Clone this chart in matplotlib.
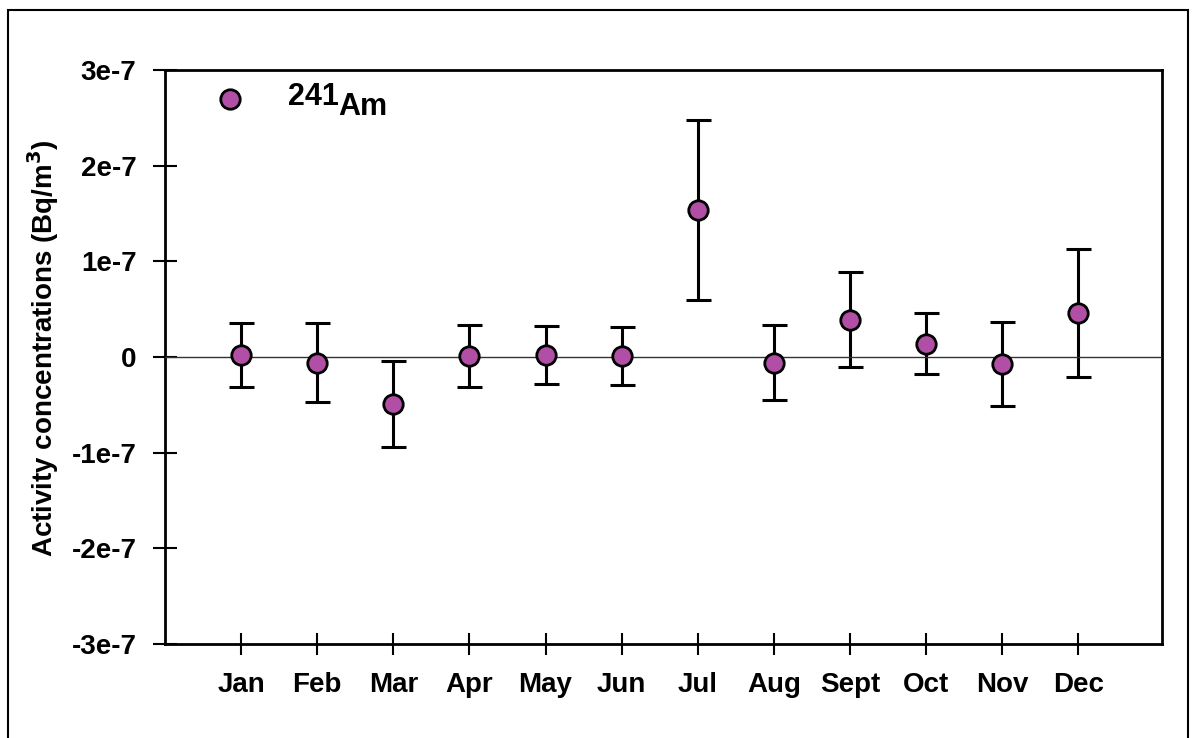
#!/usr/bin/env python3
# -*- coding: utf-8 -*-
"""Monthly 241Am activity concentrations with error bars."""

import numpy as np
import matplotlib
matplotlib.use("Agg")
import matplotlib.pyplot as plt
from matplotlib.patches import Rectangle

MESES = ["Jan", "Feb", "Mar", "Apr", "May", "Jun",
         "Jul", "Aug", "Sept", "Oct", "Nov", "Dec"]

# activity concentrations (Bq/m3) and their uncertainties
actividad = [0.2e-8, -0.6e-8, -4.9e-8, 0.1e-8, 0.2e-8, 0.1e-8,
             15.4e-8, -0.6e-8, 3.9e-8, 1.4e-8, -0.7e-8, 4.6e-8]
error = [3.3e-8, 4.1e-8, 4.5e-8, 3.2e-8, 3.0e-8, 3.0e-8,
         9.4e-8, 3.9e-8, 5.0e-8, 3.2e-8, 4.4e-8, 6.7e-8]

Y_TICKS = [-3e-7, -2e-7, -1e-7, 0, 1e-7, 2e-7, 3e-7]
Y_LABELS = ["-3e-7", "-2e-7", "-1e-7", "0", "1e-7", "2e-7", "3e-7"]

plt.rcParams["font.family"] = ["Liberation Sans", "DejaVu Sans"]
plt.rcParams["font.weight"] = "bold"
plt.rcParams["mathtext.default"] = "bf"

fig = plt.figure(figsize=(11.94, 7.38), dpi=100)
ax = fig.add_axes([0.1382, 0.1274, 0.835, 0.7778])

# outer frame of the figure
fig.patches.append(Rectangle((0.007, -0.05), 0.988, 1.036, transform=fig.transFigure,
                             fill=False, edgecolor="black", linewidth=1.5))

x = np.arange(1, len(MESES) + 1)
ax.axhline(0, color="#333333", linewidth=1.0, zorder=4)
ax.errorbar(x, actividad, yerr=error, fmt="none", ecolor="black",
            elinewidth=2.2, capsize=9, capthick=2.2, zorder=3)
puntos, = ax.plot(x, actividad, linestyle="none", marker="o", markersize=14,
                  markerfacecolor="#b14fa6", markeredgecolor="black",
                  markeredgewidth=2, zorder=5)

ax.set_xlim(0, 13.1)
ax.set_ylim(-3e-7, 3e-7)
ax.set_xticks(x)
ax.set_xticklabels(MESES, fontsize=20, fontweight="bold")
ax.set_yticks(Y_TICKS)
ax.set_yticklabels(Y_LABELS, fontsize=20, fontweight="bold")
ax.tick_params(axis="y", direction="inout", length=17, width=1.5, pad=12)
ax.tick_params(axis="x", direction="inout", length=16, width=1.5, pad=12)
for s in ax.spines.values():
    s.set_linewidth(2)

ax.set_ylabel(r"Activity concentrations (Bq/m$^{3}$)", fontsize=20,
              fontweight="bold")
ax.yaxis.set_label_coords(-0.104, 0.515)

# legend: marker only, label drawn as text so "241" keeps full size
ax.legend([puntos], [""], loc="center", bbox_to_anchor=(0.065, 0.948),
          frameon=False, handlelength=1.0, handletextpad=0.0,
          borderpad=0.0, borderaxespad=0.0)
ax.text(0.1234, 0.939, "241", transform=ax.transAxes, fontsize=22,
        fontweight="bold", ha="left", va="baseline")
ax.text(0.1735, 0.922, "Am", transform=ax.transAxes, fontsize=22,
        fontweight="bold", ha="left", va="baseline")

fig.savefig("out.png", dpi=100)
